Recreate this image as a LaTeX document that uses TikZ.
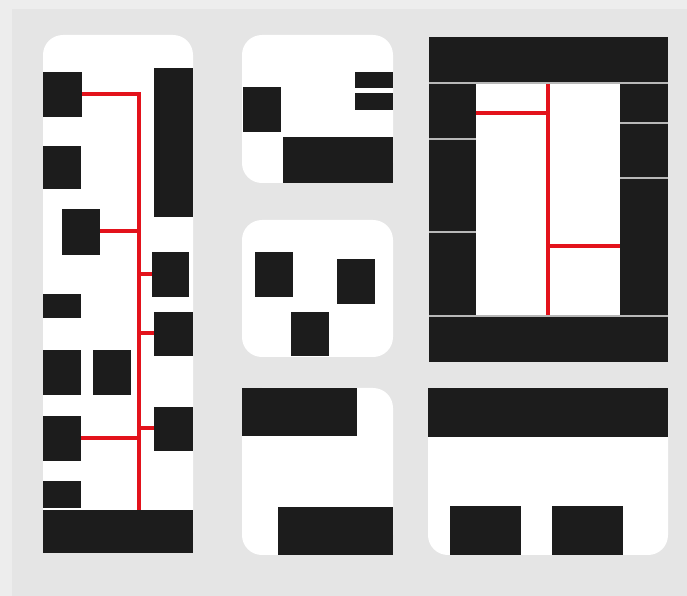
\documentclass[tikz,border=0pt]{standalone}
\begin{document}
\begin{tikzpicture}[x=0.03cm,y=-0.03cm,
  blk/.style={fill=blkc,draw=none},
  pnl/.style={fill=white,draw=none,rounded corners=17pt},
  wire/.style={draw=wirered,line width=3pt},
  sep/.style={draw=sepc,line width=1.6pt}]
\definecolor{blkc}{HTML}{1C1C1C}
\definecolor{wirered}{HTML}{E3121B}
\definecolor{sepc}{HTML}{B8B8B8}
\definecolor{outerc}{HTML}{EDEDED}
\definecolor{panelc}{HTML}{E5E5E5}
\useasboundingbox (0,0) rectangle (687,596);
\fill[outerc] (0,0) rectangle (687,596);
\fill[panelc] (12,9) rectangle (687,596);

% ---------- left panel ----------
\path[pnl] (43,35) rectangle (193,553);
\fill[blk] (43,72) rectangle (82,117);
\fill[blk] (43,146) rectangle (81,189);
\fill[blk] (62,209) rectangle (100,255);
\fill[blk] (154,68) rectangle (193,217);
\fill[blk] (152,252) rectangle (189,297);
\fill[blk] (43,294) rectangle (81,318);
\fill[blk] (154,312) rectangle (193,356);
\fill[blk] (43,350) rectangle (81,395);
\fill[blk] (93,350) rectangle (131,395);
\fill[blk] (43,416) rectangle (81,461);
\fill[blk] (154,407) rectangle (193,451);
\fill[blk] (43,481) rectangle (81,508);
\fill[blk] (43,510) rectangle (193,553);
% wiring
\coordinate (ltop) at (139,94);
\coordinate (lbot) at (139,510);
\draw[wire] (82,94) -- (ltop) -- (lbot);
\draw[wire] (100,231) -- (139,231);
\draw[wire] (139,274) -- (152,274);
\draw[wire] (139,333) -- (154,333);
\draw[wire] (139,428) -- (154,428);
\draw[wire] (81,438) -- (139,438);

% ---------- middle top panel ----------
\path[pnl] (242,35) rectangle (393,183);
\fill[blk] (243,87) rectangle (281,132);
\fill[blk] (283,137) rectangle (393,183);
\fill[blk] (355,72) rectangle (393,88);
\fill[blk] (355,93) rectangle (393,110);

% ---------- middle centre panel ----------
\path[pnl] (242,220) rectangle (393,357);
\fill[blk] (255,252) rectangle (293,297);
\fill[blk] (337,259) rectangle (375,304);
\fill[blk] (291,312) rectangle (329,356);

% ---------- middle bottom panel ----------
\path[pnl] (242,388) rectangle (393,555);
\fill[blk] (242,388) rectangle (357,436);
\fill[blk] (278,507) rectangle (393,555);

% ---------- right top panel ----------
\fill[blk] (429,37) rectangle (668,362);
\fill[white] (476,84) rectangle (620,315);
\draw[sep] (429,83) -- (668,83);
\draw[sep] (429,316) -- (668,316);
\draw[sep] (429,139) -- (476,139);
\draw[sep] (429,232) -- (476,232);
\draw[sep] (620,123) -- (668,123);
\draw[sep] (620,178) -- (668,178);
\coordinate (rtop) at (548,84);
\coordinate (rbot) at (548,315);
\draw[wire] (rtop) -- (rbot);
\draw[wire] (476,113) -- (548,113);
\draw[wire] (548,246) -- (620,246);

% ---------- right bottom panel ----------
\path[pnl] (428,388) rectangle (668,555);
\fill[blk] (428,388) rectangle (668,437);
\fill[blk] (450,506) rectangle (521,555);
\fill[blk] (552,506) rectangle (623,555);
\end{tikzpicture}
\end{document}
